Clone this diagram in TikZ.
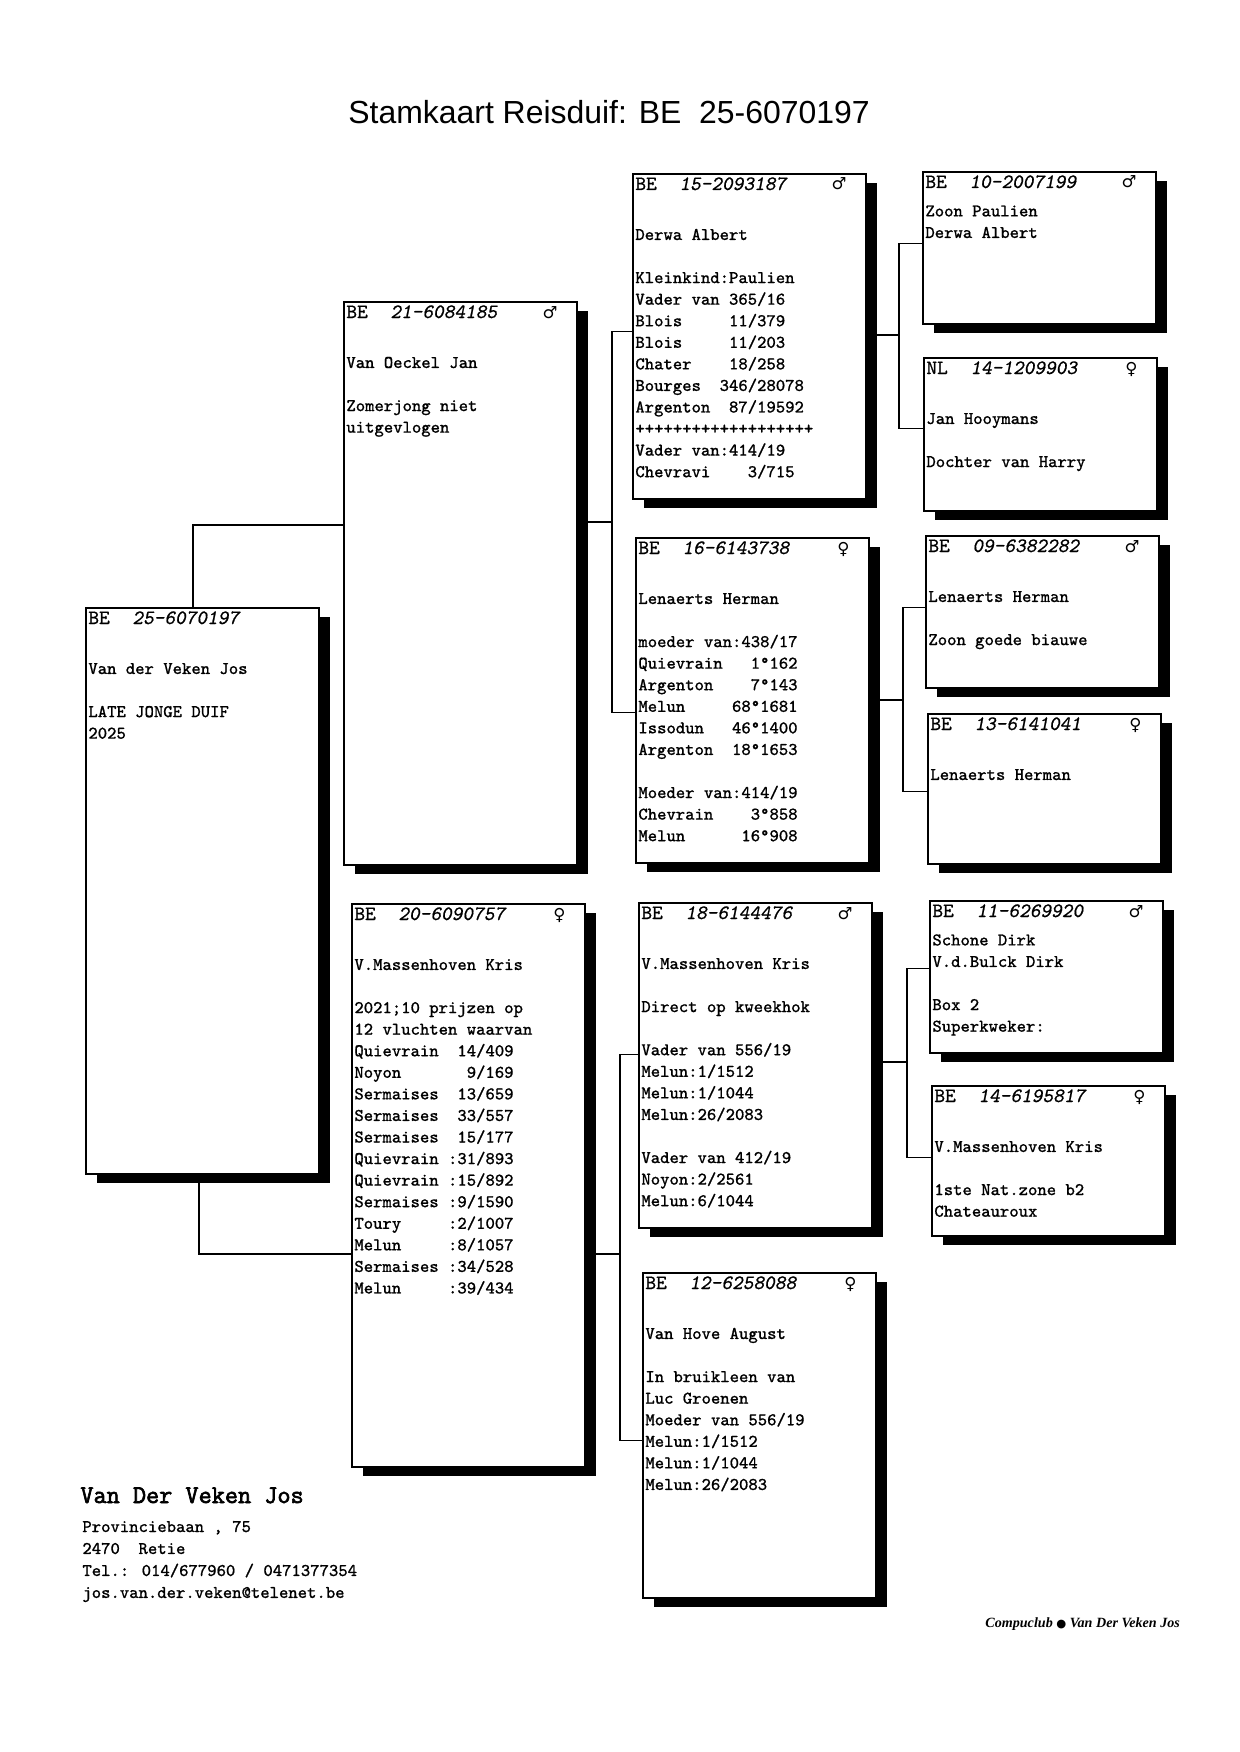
\documentclass[tikz,border=0pt]{standalone}
\usepackage{fontspec}
\setmainfont{Liberation Serif}
\setsansfont{Liberation Sans}
\newfontfamily\tekenfont{DejaVu Sans}
\newfontfamily\kaartfont{Latin Modern Mono}[FakeBold=0.8]
\newfontfamily\ringfont{Latin Modern Mono}[FakeBold=0.8, FakeSlant=0.2]
\newfontfamily\naamfont{Latin Modern Mono}[FakeBold=2.5]
\usetikzlibrary{calc, shadows}
\newlength\px
\setlength\px{0.16949mm}
% kop van een kaart: land, ringnummer, geslacht
\newcommand\kop[3]{{\fontsize{9.8}{10.4}\selectfont\makebox[44\px][l]{#1}{\ringfont #2}\hfill{\tekenfont\fontsize{8}{10}\selectfont #3}}}
% kaart: naam, x, y, hoogte, kop, regels
\newcommand\duif[6]{%
  \node[kaart, minimum height=#4\px] (#1) at (#2,#3) {};
  \node[tekst] (#1-t) at ($(#1.north west)+(3,17)$)
    {\parbox[t]{211\px}{#5\\[3.3pt]#6}};
}
\tikzset{
  kaart/.style={draw, line width=0.8pt, fill=white, anchor=north west,
    minimum width=233\px, inner sep=0pt,
    drop shadow={fill=black, opacity=1, shadow xshift=11\px, shadow yshift=-9\px}},
  tekst/.style={anchor=base west, inner sep=0pt, font=\kaartfont\fontsize{8.6}{10.4}\selectfont},
  lijn/.style={line width=0.6pt},
}

\begin{document}
\begin{tikzpicture}[x=\px, y=-\px]
  \useasboundingbox (0,0) rectangle (1239,1752);

  \node[anchor=base, font=\sffamily\fontsize{15.4}{18}\selectfont] (titel) at (609,124)
    {Stamkaart Reisduif: BE\ \ 25-6070197};

  % jonge duif en ouders
  \duif{s}{85}{607}{566}{\kop{BE}{25-6070197}{}}
    {\mbox{}\\Van der Veken Jos\\\mbox{}\\LATE JONGE DUIF\\2025}
  \duif{f}{343}{301}{563}{\kop{BE}{21-6084185}{♂}}
    {\mbox{}\\Van Oeckel Jan\\\mbox{}\\Zomerjong niet\\uitgevlogen}
  \duif{m}{351}{903}{563}{\kop{BE}{20-6090757}{♀}}
    {\mbox{}\\V.Massenhoven Kris\\\mbox{}\\2021;10 prijzen op\\12 vluchten waarvan\\
     Quievrain~~14/409\\Noyon~~~~~~~9/169\\Sermaises~~13/659\\Sermaises~~33/557\\
     Sermaises~~15/177\\Quievrain :31/893\\Quievrain :15/892\\Sermaises :9/1590\\
     Toury~~~~~:2/1007\\Melun~~~~~:8/1057\\Sermaises :34/528\\Melun~~~~~:39/434}

  % grootouders
  \duif{ff}{632}{173}{325}{\kop{BE}{15-2093187}{♂}}
    {\mbox{}\\Derwa Albert\\\mbox{}\\Kleinkind:Paulien\\Vader van 365/16\\
     Blois~~~~~11/379\\Blois~~~~~11/203\\Chater~~~~18/258\\Bourges~~346/28078\\
     Argenton~~87/19592\\+++++++++++++++++++\\Vader van:414/19\\Chevravi~~~~3/715}
  \duif{fm}{635}{537}{325}{\kop{BE}{16-6143738}{♀}}
    {\mbox{}\\Lenaerts Herman\\\mbox{}\\moeder van:438/17\\Quievrain~~~1°162\\
     Argenton~~~~7°143\\Melun~~~~~68°1681\\Issodun~~~46°1400\\Argenton~~18°1653\\
     \mbox{}\\Moeder van:414/19\\Chevrain~~~~3°858\\Melun~~~~~~16°908}
  \duif{mf}{638}{902}{325}{\kop{BE}{18-6144476}{♂}}
    {\mbox{}\\V.Massenhoven Kris\\\mbox{}\\Direct op kweekhok\\\mbox{}\\
     Vader van 556/19\\Melun:1/1512\\Melun:1/1044\\Melun:26/2083\\\mbox{}\\
     Vader van 412/19\\Noyon:2/2561\\Melun:6/1044}
  \duif{mm}{642}{1272}{325}{\kop{BE}{12-6258088}{♀}}
    {\mbox{}\\Van Hove August\\\mbox{}\\In bruikleen van\\Luc Groenen\\
     Moeder van 556/19\\Melun:1/1512\\Melun:1/1044\\Melun:26/2083}

  % overgrootouders
  \duif{fff}{922}{171}{152}{\kop{BE}{10-2007199}{♂}}
    {Zoon Paulien\\Derwa Albert}
  \duif{ffm}{923}{357}{153}{\kop{NL}{14-1209903}{♀}}
    {\mbox{}\\Jan Hooymans\\\mbox{}\\Dochter van Harry}
  \duif{fmf}{925}{535}{152}{\kop{BE}{09-6382282}{♂}}
    {\mbox{}\\Lenaerts Herman\\\mbox{}\\Zoon goede biauwe}
  \duif{fmm}{927}{713}{150}{\kop{BE}{13-6141041}{♀}}
    {\mbox{}\\Lenaerts Herman}
  \duif{mff}{929}{900}{152}{\kop{BE}{11-6269920}{♂}}
    {Schone Dirk\\V.d.Bulck Dirk\\\mbox{}\\Box 2\\Superkweker:}
  \duif{mfm}{931}{1085}{150}{\kop{BE}{14-6195817}{♀}}
    {\mbox{}\\V.Massenhoven Kris\\\mbox{}\\1ste Nat.zone b2\\Chateauroux}

  % verbindingen
  \coordinate (j1) at (193,525);
  \coordinate (j2) at (199,1254);
  \coordinate (j3) at (612,522);
  \coordinate (j4) at (620,1254);
  \coordinate (j5) at (899,335);
  \coordinate (j6) at (903,700);
  \coordinate (j7) at (907,1062);
  \draw[lijn] (s.north -| j1) |- (f.west |- j1);
  \draw[lijn] (s.south -| j2) |- (m.west |- j2);
  \draw[lijn] (f.east |- j3) -- (j3);
  \draw[lijn] ([yshift=5\px]ff.west) -| (j3) |- ([yshift=-12\px]fm.west);
  \draw[lijn] (m.east |- j4) -- (j4);
  \draw[lijn] ([yshift=11\px]mf.west) -| (j4) |- ([yshift=-5\px]mm.west);
  \draw[lijn] (ff.east |- j5) -- (j5);
  \draw[lijn] ([yshift=4\px]fff.west) -| (j5) |- ([yshift=6\px]ffm.west);
  \draw[lijn] (fm.east |- j6) -- (j6);
  \draw[lijn] ([yshift=4\px]fmf.west) -| (j6) |- ([yshift=-3\px]fmm.west);
  \draw[lijn] (mf.east |- j7) -- (j7);
  \draw[lijn] ([yshift=8\px]mff.west) -| (j7) |- ([yshift=3\px]mfm.west);

  % eigenaar
  \node[anchor=base west, inner sep=0pt, font=\naamfont\fontsize{12.3}{14}\selectfont]
    (naam) at (80,1503) {Van Der Veken Jos};
  \node[anchor=base west, inner sep=0pt, font=\kaartfont\fontsize{8.6}{10.6}\selectfont]
    (adres) at (82,1532) {\parbox[t]{320\px}{Provinciebaan , 75\\2470~~Retie\\
      Tel.: 014/677960 / 0471377354\\jos.van.der.veken@telenet.be}};
  \node[anchor=base west, inner sep=0pt, font=\rmfamily\bfseries\itshape\fontsize{6.8}{8}\selectfont]
    (bron) at (985,1627) {Compuclub {\tekenfont\fontsize{5.5}{6}\selectfont ●} Van Der Veken Jos};
\end{tikzpicture}
\end{document}
